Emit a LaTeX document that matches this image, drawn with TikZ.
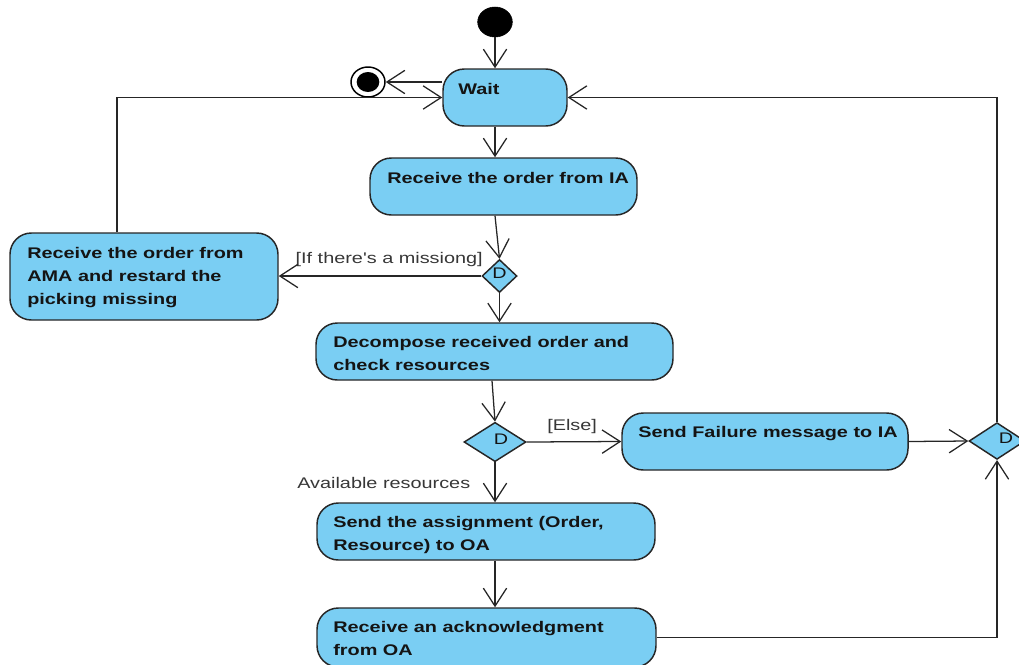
\documentclass[tikz,border=0pt]{standalone}
\usepackage{fontspec}
\newfontfamily\uifont[FakeStretch=1.29]{Liberation Sans}
\usetikzlibrary{arrows.meta,shapes.geometric,fit,calc}
\definecolor{actfill}{RGB}{122,206,243}
\definecolor{edge}{RGB}{38,38,38}
\definecolor{ink}{RGB}{20,20,20}
\definecolor{guard}{RGB}{55,55,55}
\begin{document}
\begin{tikzpicture}[x=0.75pt,y=-0.75pt,
  act/.style={draw=edge,line width=1.1pt,fill=actfill,rounded corners=16pt,inner sep=0pt},
  acttext/.style={anchor=base west,inner sep=0pt,text=ink,
    font=\uifont\bfseries\fontsize{11.55pt}{17.25pt}\selectfont},
  guardtext/.style={inner sep=0pt,text=guard,
    font=\uifont\fontsize{11.55pt}{17.25pt}\selectfont},
  decision/.style={diamond,draw=edge,line width=1.1pt,fill=actfill,inner sep=0pt},
  dtext/.style={inner sep=0pt,text=ink,font=\uifont\fontsize{11.5pt}{14pt}\selectfont},
  flow/.style={draw=edge,line width=0.95pt,-{Straight Barb[length=13.5pt,width=17.5pt]}},
  link/.style={draw=edge,line width=0.95pt}]

\useasboundingbox (0,0) rectangle (1019,664);

% start and end markers
\node[ellipse,fill=black,draw=black,minimum width=26pt,minimum height=22.5pt,inner sep=0pt] (ini) at (495,22) {};
\node[ellipse,fill=white,draw=black,line width=1.1pt,minimum width=25.5pt,minimum height=22.5pt,inner sep=0pt] (fin) at (368,82) {};
\node[ellipse,fill=black,minimum width=17pt,minimum height=15pt,inner sep=0pt] (finDot) at (fin) {};

% actions
\node[act,fit={(443,69) (567,126)}] (wait) {};
\node[acttext] at (458,94) {Wait};

\node[act,fit={(370,158) (637,215)}] (rcv) {};
\node[acttext] at (387,183) {Receive the order from IA};

\node[act,fit={(10,233) (278,320)}] (ama) {};
\node[acttext] at (27,258) {\vtop{\hbox{Receive the order from}\hbox{AMA and restard the}\hbox{picking missing}}};

\node[act,fit={(316,323) (673,380)}] (dec) {};
\node[acttext] at (333,347) {\vtop{\hbox{Decompose received order and}\hbox{check resources}}};

\node[act,fit={(622,413) (908,470)}] (fail) {};
\node[acttext] at (638,437) {Send Failure message to IA};

\node[act,fit={(317,503) (655,560)}] (snd) {};
\node[acttext] at (333,527) {\vtop{\hbox{Send the assignment (Order,}\hbox{Resource) to OA}}};

\node[act,fit={(317,608) (656,667)}] (ack) {};
\node[acttext] at (333,632) {\vtop{\hbox{Receive an acknowledgment}\hbox{from OA}}};

% decisions
\node[decision,minimum width=26.25pt,minimum height=24.75pt] (d1) at (499.5,276) {};
\node[dtext] at ($(d1)+(0,-3)$) {D};
\node[decision,minimum width=46.5pt,minimum height=29.5pt] (d2) at (495,442) {};
\node[dtext] at ($(d2)+(6,-3)$) {D};
\node[decision,minimum width=42pt,minimum height=27.5pt] (d3) at (997,441) {};
\node[dtext] at ($(d3)+(9,-3)$) {D};

% guards
\node[guardtext,anchor=base east] (g1) at (483,263) {[If there's a missiong]};
\node[guardtext,anchor=base west] (g2) at (547,430) {[Else]};
\node[guardtext,anchor=base west] (g3) at (297,488) {Available resources};

% control flow
\draw[flow] (ini.south) -- (ini.south |- wait.north);
\draw[flow] (wait.west |- fin.east) -- (fin.east);
\draw[flow] (ini |- wait.south) -- (ini |- rcv.north);
\draw[flow] (ini |- rcv.south) -- (d1.north);
\draw[flow] (d1.west) -- (d1.west -| ama.east);
\draw[flow] ($(ama.north west)!0.4!(ama.north east)$) |- (wait.west);
\draw[flow] (d1.south) -- (d1.south |- dec.north);
\draw[flow] ($(dec.south -| d2)+(-3,0)$) -- (d2.north);
\draw[flow] (d2.east) -- (fail.west);
\draw[flow] (fail.east) -- (d3.west);
\draw[flow] (d3.north) |- (wait.east);
\draw[flow] (d2.south) -- (d2.south |- snd.north);
\draw[flow] (d2 |- snd.south) -- (d2 |- ack.north);
\draw[flow] (ack.east) -| (d3.south);
\end{tikzpicture}
\end{document}
